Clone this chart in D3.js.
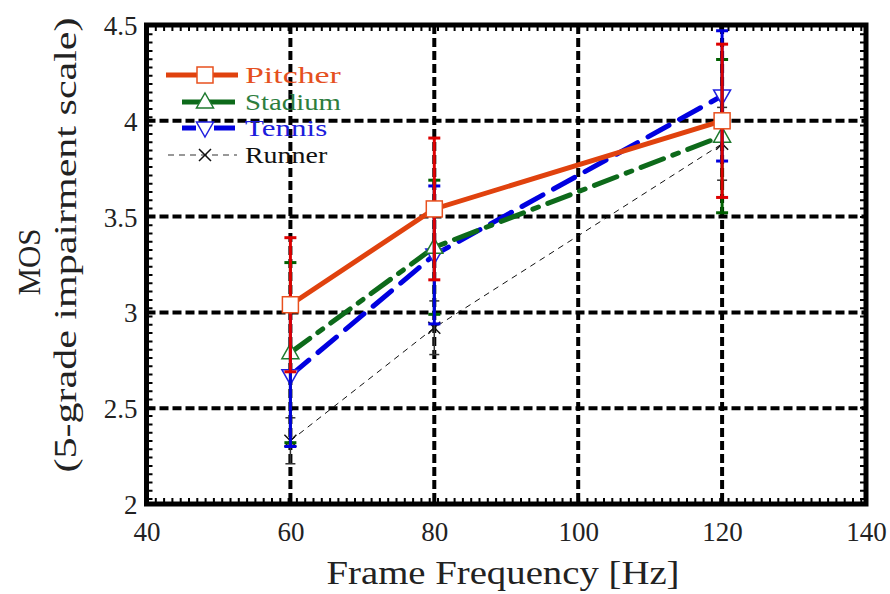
<!DOCTYPE html>
<html><head><meta charset="utf-8">
<script src="https://cdn.jsdelivr.net/npm/d3@7"></script>
<style>body{margin:0;background:#fff}svg{display:block}</style>
</head><body>
<svg id="chart" width="890" height="594"></svg>
<script>
const frequencies = [60, 80, 120];
const pitcherMean = [3.04, 3.54, 4.00];
const pitcherErr  = [0.35, 0.37, 0.40];
const stadiumMean = [2.79, 3.34, 3.92];
const stadiumErr  = [0.47, 0.35, 0.40];
const tennisMean  = [2.67, 3.30, 4.13];
const tennisErr   = [0.37, 0.36, 0.34];
const runnerMean  = [2.33, 2.92, 3.88];
const runnerErr   = [0.12, 0.14, 0.19];
const xTicks = [40, 60, 80, 100, 120, 140];
const yTicks = [2, 2.5, 3, 3.5, 4, 4.5];
const yTickLabels = ["2", "2.5", "3", "3.5", "4", "4.5"];
const seriesNames = ["Pitcher", "Stadium", "Tennis", "Runner"];

const FONT = "'Liberation Serif', 'DejaVu Serif', serif";
const svg = d3.select("#chart");
const x = d3.scaleLinear().domain([40, 140]).range([146.5, 866]);
const y = d3.scaleLinear().domain([2, 4.5]).range([504, 25]);

const series = [
  {name: seriesNames[0], mean: pitcherMean, err: pitcherErr, line: "#e0420e", width: 5, dash: null, ebar: "#dd0000", ebw: 3, marker: "square", mstroke: "#e8501e", text: "#e55020"},
  {name: seriesNames[1], mean: stadiumMean, err: stadiumErr, line: "#0d6a1a", width: 5, dash: "24,10,6,10", ebar: "#006000", ebw: 3, marker: "up", mstroke: "#1f7a2f", text: "#2d7d3d"},
  {name: seriesNames[2], mean: tennisMean, err: tennisErr, line: "#0000e0", width: 5, dash: "24,12", ebar: "#0000dd", ebw: 3, marker: "down", mstroke: "#2020e0", text: "#1c1cdc"},
  {name: seriesNames[3], mean: runnerMean, err: runnerErr, line: "#111", width: 1, dash: "6,5", ebar: "#333", ebw: 1.5, marker: "x", mstroke: "#111", text: "#111"}
];

// grid
const grid = svg.append("g");
[60, 80, 100, 120].forEach(v => grid.append("line")
  .attr("x1", x(v)).attr("x2", x(v)).attr("y1", y(4.5)).attr("y2", y(2))
  .attr("stroke", "#000").attr("stroke-width", 4).attr("stroke-dasharray", "9,4"));
[2.5, 3, 3.5, 4].forEach(v => grid.append("line")
  .attr("x1", x(40)).attr("x2", x(140)).attr("y1", y(v)).attr("y2", y(v))
  .attr("stroke", "#000").attr("stroke-width", 4).attr("stroke-dasharray", "9,4"));

// frame with minor tick pattern
const frame = svg.append("g");
frame.append("rect").attr("x", x(40)).attr("y", y(4.5))
  .attr("width", x(140) - x(40)).attr("height", y(2) - y(4.5))
  .attr("fill", "none").attr("stroke", "#000").attr("stroke-width", 5);
const inner = [
  [x(40) + 4, y(4.5), x(40) + 4, y(2)],
  [x(140) - 4, y(4.5), x(140) - 4, y(2)],
  [x(40), y(4.5) + 4, x(140), y(4.5) + 4],
  [x(40), y(2) - 4, x(140), y(2) - 4]
];
inner.forEach(p => frame.append("line")
  .attr("x1", p[0]).attr("y1", p[1]).attr("x2", p[2]).attr("y2", p[3])
  .attr("stroke", "#000").attr("stroke-width", 4).attr("stroke-dasharray", "2,6.3"));

// axes labels via d3 axis
const xAxis = svg.append("g").attr("transform", `translate(0,${y(2) + 10})`)
  .call(d3.axisBottom(x).tickValues(xTicks).tickSize(0).tickFormat(d3.format("d")));
xAxis.select(".domain").remove();
xAxis.selectAll("text").attr("font-family", FONT).attr("font-size", 27).attr("fill", "#222")
  .attr("dy", "0.9em");

const yAxis = svg.append("g").attr("transform", `translate(${x(40) - 6},0)`)
  .call(d3.axisLeft(y).tickValues(yTicks).tickSize(0).tickFormat((d, i) => yTickLabels[i]));
yAxis.select(".domain").remove();
yAxis.selectAll("text").attr("font-family", FONT).attr("font-size", 27).attr("fill", "#222")
  .attr("dy", "0.35em");

// titles
svg.append("text").attr("x", 503).attr("y", 584).attr("text-anchor", "middle")
  .attr("font-family", FONT).attr("font-size", 33).attr("fill", "#222")
  .attr("textLength", 353).attr("lengthAdjust", "spacingAndGlyphs")
  .text("Frame Frequency [Hz]");
svg.append("text").attr("transform", "translate(40,262) rotate(-90)").attr("text-anchor", "middle")
  .attr("font-family", FONT).attr("font-size", 31).attr("fill", "#222")
  .text("MOS");
svg.append("text").attr("transform", "translate(76,245) rotate(-90)").attr("text-anchor", "middle")
  .attr("font-family", FONT).attr("font-size", 31).attr("fill", "#222")
  .attr("textLength", 455).attr("lengthAdjust", "spacingAndGlyphs")
  .text("(5-grade impairment scale)");

// lines
const lineGen = d3.line().x(d => x(d[0])).y(d => y(d[1]));
const plot = svg.append("g");
series.slice().reverse().forEach(s => {
  plot.append("path").datum(frequencies.map((f, i) => [f, s.mean[i]]))
    .attr("d", lineGen).attr("fill", "none").attr("stroke", s.line)
    .attr("stroke-width", s.width).attr("stroke-dasharray", s.dash)
    .attr("stroke-linecap", s.width > 2 ? "round" : "butt");
});

function drawMarker(g, type, cx, cy, stroke) {
  if (type === "square") {
    g.append("rect").attr("x", cx - 8).attr("y", cy - 8).attr("width", 16).attr("height", 16)
      .attr("fill", "#fff").attr("stroke", stroke).attr("stroke-width", 1.5);
  } else if (type === "up") {
    g.append("path").attr("d", `M${cx},${cy - 9}L${cx + 8.5},${cy + 6}L${cx - 8.5},${cy + 6}Z`)
      .attr("fill", "#fff").attr("stroke", stroke).attr("stroke-width", 1.5);
  } else if (type === "down") {
    g.append("path").attr("d", `M${cx},${cy + 9}L${cx + 8.5},${cy - 6}L${cx - 8.5},${cy - 6}Z`)
      .attr("fill", "#fff").attr("stroke", stroke).attr("stroke-width", 1.5);
  } else {
    g.append("path").attr("d", `M${cx - 6},${cy - 6}L${cx + 6},${cy + 6}M${cx - 6},${cy + 6}L${cx + 6},${cy - 6}`)
      .attr("fill", "none").attr("stroke", stroke).attr("stroke-width", 1.5);
  }
}

// markers of non-pitcher series
[series[3], series[2], series[1]].forEach(s => {
  frequencies.forEach((f, i) => drawMarker(plot, s.marker, x(f), y(s.mean[i]), s.mstroke));
});

// error bars
[series[3], series[1], series[2], series[0]].forEach(s => {
  const cw = s.ebw > 2 ? 6 : 5;
  frequencies.forEach((f, i) => {
    const cx = x(f), lo = y(s.mean[i] - s.err[i]), hi = y(s.mean[i] + s.err[i]);
    plot.append("line").attr("x1", cx).attr("x2", cx).attr("y1", lo).attr("y2", hi)
      .attr("stroke", s.ebar).attr("stroke-width", s.ebw);
    [lo, hi].forEach(yy => plot.append("line").attr("x1", cx - cw).attr("x2", cx + cw)
      .attr("y1", yy).attr("y2", yy).attr("stroke", s.ebar).attr("stroke-width", s.ebw));
  });
});

// pitcher markers on top
frequencies.forEach((f, i) => drawMarker(plot, "square", x(f), y(pitcherMean[i]), series[0].mstroke));

// legend
const legend = svg.append("g");
const legY = [75, 102, 128, 155];
const legLines = [[166, 238, null], [182, 235, "24,10,6,10"], [182, 235, null], [168, 237, "6,5"]];
series.forEach((s, i) => {
  const ly = legY[i];
  if (i === 2) {
    legend.append("line").attr("x1", 182).attr("x2", 196).attr("y1", ly).attr("y2", ly)
      .attr("stroke", s.line).attr("stroke-width", s.width);
    legend.append("line").attr("x1", 214).attr("x2", 235).attr("y1", ly).attr("y2", ly)
      .attr("stroke", s.line).attr("stroke-width", s.width);
  } else if (i === 1) {
    legend.append("line").attr("x1", 182).attr("x2", 235).attr("y1", ly).attr("y2", ly)
      .attr("stroke", s.line).attr("stroke-width", s.width);
  } else {
    legend.append("line").attr("x1", legLines[i][0]).attr("x2", legLines[i][1]).attr("y1", ly).attr("y2", ly)
      .attr("stroke", i === 3 ? "#777" : s.line).attr("stroke-width", s.width === 1 ? 1.5 : s.width)
      .attr("stroke-dasharray", legLines[i][2]);
  }
  drawMarker(legend, s.marker, 205, ly, s.mstroke);
  legend.append("text").attr("x", 245).attr("y", ly + 8)
    .attr("font-family", FONT).attr("font-size", 23).attr("fill", s.text)
    .attr("textLength", s.name.length * 13.7).attr("lengthAdjust", "spacingAndGlyphs")
    .text(s.name);
});
</script>
</body></html>
